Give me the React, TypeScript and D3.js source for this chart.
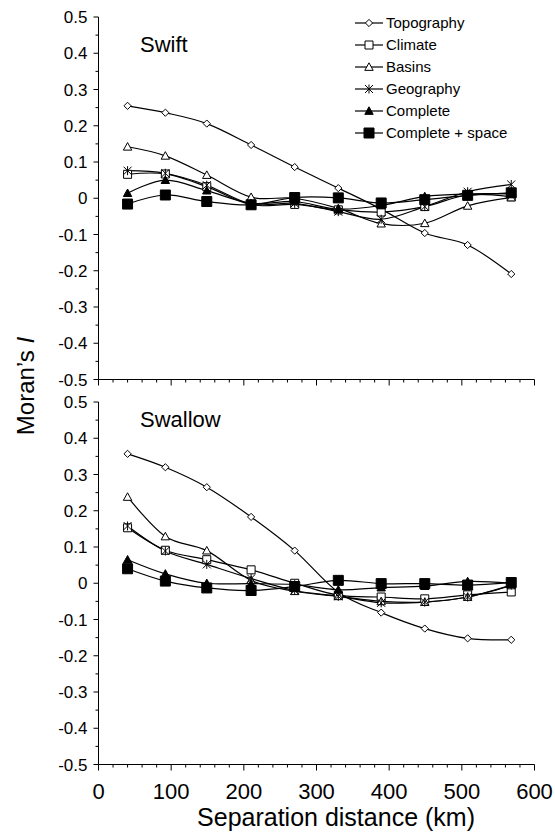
import React, { useRef, useEffect } from "react";
import * as d3 from "d3";

// distance classes (km)
const distances = [40, 92, 149, 210, 270, 330, 389, 449, 508, 568];

const seriesNames = ["Topography", "Climate", "Basins", "Geography", "Complete", "Complete + space"];
const markerKinds = ["diamond", "squareOpen", "triangleOpen", "asterisk", "triangleFilled", "squareFilled"];

// Swift
const swiftTopography = [0.255, 0.236, 0.206, 0.147, 0.086, 0.028, -0.03, -0.096, -0.129, -0.209];
const swiftClimate = [0.066, 0.067, 0.032, -0.018, -0.017, -0.032, -0.038, -0.023, 0.009, 0.004];
const swiftBasins = [0.142, 0.117, 0.064, 0.003, 0.0, -0.028, -0.07, -0.069, -0.021, 0.002];
const swiftGeography = [0.076, 0.069, 0.036, -0.016, -0.014, -0.037, -0.058, -0.023, 0.018, 0.038];
const swiftComplete = [0.014, 0.05, 0.021, -0.014, -0.009, -0.03, -0.02, 0.005, 0.012, 0.012];
const swiftCompleteSpace = [-0.016, 0.009, -0.009, -0.018, 0.002, 0.001, -0.013, -0.004, 0.008, 0.015];

// Swallow
const swallowTopography = [0.357, 0.32, 0.265, 0.183, 0.09, -0.025, -0.081, -0.125, -0.152, -0.156];
const swallowClimate = [0.153, 0.091, 0.065, 0.037, 0.0, -0.033, -0.038, -0.043, -0.032, -0.024];
const swallowBasins = [0.238, 0.129, 0.09, 0.008, -0.022, -0.036, -0.05, -0.052, -0.038, -0.006];
const swallowGeography = [0.158, 0.089, 0.052, 0.013, -0.02, -0.036, -0.054, -0.052, -0.038, -0.005];
const swallowComplete = [0.065, 0.026, 0.0, -0.001, -0.004, -0.018, -0.012, -0.008, 0.005, 0.0];
const swallowCompleteSpace = [0.04, 0.006, -0.013, -0.02, -0.009, 0.008, -0.001, -0.001, -0.005, 0.002];

const yTicks = [0.5, 0.4, 0.3, 0.2, 0.1, 0, -0.1, -0.2, -0.3, -0.4, -0.5];
const xTicks = [0, 100, 200, 300, 400, 500, 600];

const FONT = "'Liberation Sans', Arial, sans-serif";

// marker path centred on 0,0
const markerPath = (kind: string) => {
  const p = d3.path();
  if (kind === "diamond") {
    const r = 3.6;
    p.moveTo(0, -r); p.lineTo(r, 0); p.lineTo(0, r); p.lineTo(-r, 0); p.closePath();
  } else if (kind === "squareOpen") {
    const r = 4;
    p.rect(-r, -r, 2 * r, 2 * r);
  } else if (kind === "squareFilled") {
    const r = 5;
    p.rect(-r, -r, 2 * r, 2 * r);
  } else if (kind === "triangleOpen" || kind === "triangleFilled") {
    const r = 4.2;
    p.moveTo(0, -r); p.lineTo(r, r * 0.8); p.lineTo(-r, r * 0.8); p.closePath();
  } else if (kind === "asterisk") {
    const r = 4;
    p.moveTo(-r, -r); p.lineTo(r, r);
    p.moveTo(r, -r); p.lineTo(-r, r);
    p.moveTo(0, -r - 0.5); p.lineTo(0, r + 0.5);
  }
  return p.toString();
};

const isFilled = (kind: string) => kind === "triangleFilled" || kind === "squareFilled";

const App = () => {
  const ref = useRef<SVGSVGElement>(null);

  useEffect(() => {
    const svg = d3.select(ref.current);
    svg.selectAll("*").remove();

    const x = d3.scaleLinear().domain([0, 600]).range([98.5, 534.5]);

    const panels = [
      { title: "Swift", top: 17, bottom: 379.5, series: [swiftTopography, swiftClimate, swiftBasins, swiftGeography, swiftComplete, swiftCompleteSpace], labels: false },
      { title: "Swallow", top: 402, bottom: 764.5, series: [swallowTopography, swallowClimate, swallowBasins, swallowGeography, swallowComplete, swallowCompleteSpace], labels: true },
    ];

    panels.forEach((panel) => {
      const y = d3.scaleLinear().domain([-0.5, 0.5]).range([panel.bottom, panel.top]);
      const g = svg.append("g");

      // y axis
      g.append("line")
        .attr("x1", x(0)).attr("x2", x(0))
        .attr("y1", y(0.5)).attr("y2", y(-0.5))
        .attr("stroke", "#000").attr("stroke-width", 1);
      d3.range(-0.5, 0.5001, 0.05).forEach((v, i) => {
        const major = i % 2 === 0;
        g.append("line")
          .attr("x1", x(0) - (major ? 5 : 3)).attr("x2", x(0))
          .attr("y1", y(v)).attr("y2", y(v))
          .attr("stroke", "#000");
      });
      yTicks.forEach((v) => {
        g.append("text")
          .attr("x", x(0) - 11).attr("y", y(v))
          .attr("dy", "0.36em")
          .attr("text-anchor", "end")
          .attr("font-family", FONT).attr("font-size", 17)
          .text(v === 0 ? "0" : d3.format(".1f")(v).replace("−", "-"));
      });

      // x axis
      g.append("line")
        .attr("x1", x(0)).attr("x2", x(600))
        .attr("y1", y(-0.5)).attr("y2", y(-0.5))
        .attr("stroke", "#000");
      d3.range(0, 601, 20).forEach((v) => {
        const major = v % 100 === 0;
        g.append("line")
          .attr("x1", x(v)).attr("x2", x(v))
          .attr("y1", y(-0.5)).attr("y2", y(-0.5) + (major ? 6 : 3))
          .attr("stroke", "#000");
      });
      if (panel.labels) {
        xTicks.forEach((v) => {
          g.append("text")
            .attr("x", x(v)).attr("y", y(-0.5) + 34)
            .attr("text-anchor", "middle")
            .attr("font-family", FONT).attr("font-size", 22)
            .text(v);
        });
      }

      // panel title
      g.append("text")
        .attr("x", 140).attr("y", panel.top + (panel.labels ? 25 : 35))
        .attr("font-family", FONT).attr("font-size", 22)
        .text(panel.title);

      const line = d3.line<number>()
        .x((d, i) => x(distances[i]))
        .y((d) => y(d))
        .curve(d3.curveCardinal.tension(0));

      panel.series.forEach((vals) => {
        g.append("path")
          .attr("d", line(vals))
          .attr("fill", "none")
          .attr("stroke", "#000")
          .attr("stroke-width", 1.2);
      });

      panel.series.forEach((vals, si) => {
        const kind = markerKinds[si];
        g.selectAll(`.m${si}`)
          .data(vals)
          .enter()
          .append("path")
          .attr("transform", (d, i) => `translate(${x(distances[i])},${y(d)})`)
          .attr("d", markerPath(kind))
          .attr("fill", kind === "asterisk" ? "none" : isFilled(kind) ? "#000" : "#fff")
          .attr("stroke", "#000")
          .attr("stroke-width", 1);
      });
    });

    // legend
    const lg = svg.append("g");
    seriesNames.forEach((name, i) => {
      const yy = 23 + i * 22;
      lg.append("line")
        .attr("x1", 355).attr("x2", 383)
        .attr("y1", yy).attr("y2", yy)
        .attr("stroke", "#000").attr("stroke-width", 1.2);
      lg.append("path")
        .attr("transform", `translate(369,${yy})`)
        .attr("d", markerPath(markerKinds[i]))
        .attr("fill", markerKinds[i] === "asterisk" ? "none" : isFilled(markerKinds[i]) ? "#000" : "#fff")
        .attr("stroke", "#000");
      lg.append("text")
        .attr("x", 386).attr("y", yy)
        .attr("dy", "0.36em")
        .attr("font-family", FONT).attr("font-size", 15)
        .text(name);
    });

    // axis titles
    svg.append("text")
      .attr("x", 336).attr("y", 826)
      .attr("text-anchor", "middle")
      .attr("font-family", FONT).attr("font-size", 25)
      .text("Separation distance (km)");

    const yt = svg.append("text")
      .attr("transform", "translate(34,386) rotate(-90)")
      .attr("text-anchor", "middle")
      .attr("font-family", FONT).attr("font-size", 24);
    yt.append("tspan").text("Moran\u2019s ");
    yt.append("tspan").attr("font-style", "italic").text("I");
  }, []);

  return (
    <svg
      ref={ref}
      width={555}
      height={836}
      style={{ position: "absolute", left: 0, top: 0, background: "#fff" }}
    />
  );
};

export default App;
